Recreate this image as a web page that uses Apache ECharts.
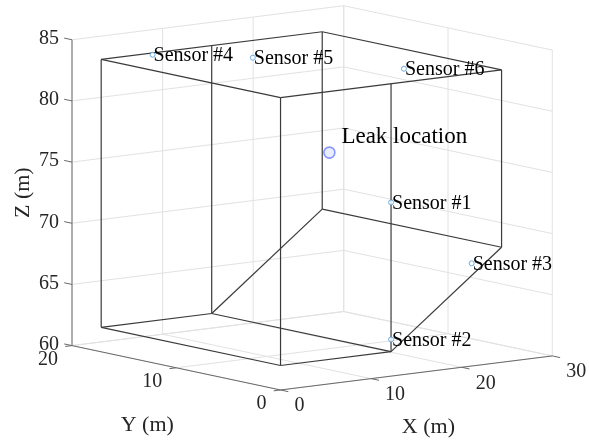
<!DOCTYPE html>
<html>
<head>
<meta charset="utf-8">
<script src="https://cdn.jsdelivr.net/npm/echarts@6/dist/echarts.min.js"></script>
<style>
  html, body { margin: 0; padding: 0; background: #ffffff; }
  #chart { width: 589px; height: 443px; }
</style>
</head>
<body>
<div id="chart"></div>
<script>
// Axis limits and ticks (metres)
const xTicks = [0, 10, 20, 30];
const yTicks = [0, 10, 20];
const zTicks = [60, 65, 70, 75, 80, 85];

// Tank outline: cross-section in the x–z plane, extruded along y
const profileX = [0, 12.2, 24.4, 24.4, 0];
const profileZ = [62, 62, 69.4, 83.9, 83.9];
const tankY = [0, 17.2];
const dividerX = 12.2;

// Sensor positions
const sensorNames = ['Sensor #1', 'Sensor #2', 'Sensor #3', 'Sensor #4', 'Sensor #5', 'Sensor #6'];
const sensorX = [12.2, 12.2, 21.1, 5.1, 11.1, 18.0];
const sensorY = [0, 0, 0, 16.7, 12.3, 3.8];
const sensorZ = [74.2, 63.0, 68.4, 83.9, 83.9, 83.9];

// Estimated leak position
const leakName = 'Leak location';
const leakX = [14.6];
const leakY = [8.0];
const leakZ = [76.6];

// ---- 3-D view: orthographic projection (azimuth / elevation, plot-box aspect) ----
const xLim = [xTicks[0], xTicks[xTicks.length - 1]];
const yLim = [yTicks[0], yTicks[yTicks.length - 1]];
const zLim = [zTicks[0], zTicks[zTicks.length - 1]];
const AZ = -37.5 * Math.PI / 180;
const EL = 9.4 * Math.PI / 180;
const BOX = [1.105, 1.105, 1];      // plot-box aspect ratio
const SCALE = 310;                  // pixels per unit of plot box
const ORIGIN_TOP = 5.7;             // top of the projected box, px
const ORIGIN_LEFT = 72;             // left of the projected box, px

function proj(x, y, z) {
  const nx = (x - xLim[0]) / (xLim[1] - xLim[0]) * BOX[0];
  const ny = (y - yLim[0]) / (yLim[1] - yLim[0]) * BOX[1];
  const nz = (z - zLim[0]) / (zLim[1] - zLim[0]) * BOX[2];
  const h = Math.cos(AZ) * nx + Math.sin(AZ) * ny;
  const v = -Math.sin(EL) * Math.sin(AZ) * nx + Math.sin(EL) * Math.cos(AZ) * ny + Math.cos(EL) * nz;
  return [h, v];
}

// extent of the projected axis box
const corners = [];
[xLim[0], xLim[1]].forEach(x => [yLim[0], yLim[1]].forEach(y => [zLim[0], zLim[1]].forEach(z => corners.push(proj(x, y, z)))));
const hMin = Math.min(...corners.map(c => c[0])), hMax = Math.max(...corners.map(c => c[0]));
const vMin = Math.min(...corners.map(c => c[1])), vMax = Math.max(...corners.map(c => c[1]));

// ---- segments ----
const gridSegs = [];
// floor
xTicks.forEach(x => gridSegs.push([[x, yLim[0], zLim[0]], [x, yLim[1], zLim[0]]]));
yTicks.forEach(y => gridSegs.push([[xLim[0], y, zLim[0]], [xLim[1], y, zLim[0]]]));
// back wall (y = max)
xTicks.forEach(x => gridSegs.push([[x, yLim[1], zLim[0]], [x, yLim[1], zLim[1]]]));
zTicks.forEach(z => gridSegs.push([[xLim[0], yLim[1], z], [xLim[1], yLim[1], z]]));
// side wall (x = max)
yTicks.forEach(y => gridSegs.push([[xLim[1], y, zLim[0]], [xLim[1], y, zLim[1]]]));
zTicks.forEach(z => gridSegs.push([[xLim[1], yLim[0], z], [xLim[1], yLim[1], z]]));

const axisSegs = [
  [[xLim[0], yLim[1], zLim[0]], [xLim[0], yLim[1], zLim[1]]],
  [[xLim[0], yLim[0], zLim[0]], [xLim[0], yLim[1], zLim[0]]],
  [[xLim[0], yLim[0], zLim[0]], [xLim[1], yLim[0], zLim[0]]]
];
const TICK = 0.75;
zTicks.forEach(z => axisSegs.push([[xLim[0], yLim[1], z], [xLim[0], yLim[1] + TICK, z]]));
yTicks.forEach(y => axisSegs.push([[xLim[0], y, zLim[0]], [xLim[0] - TICK, y, zLim[0]]]));
xTicks.forEach(x => axisSegs.push([[x, yLim[0], zLim[0]], [x, yLim[0] - TICK, zLim[0]]]));

const tankSegs = [];
tankY.forEach(y => {
  for (let i = 0; i < profileX.length; i++) {
    const j = (i + 1) % profileX.length;
    tankSegs.push([[profileX[i], y, profileZ[i]], [profileX[j], y, profileZ[j]]]);
  }
  tankSegs.push([[dividerX, y, profileZ[0]], [dividerX, y, profileZ[profileZ.length - 1]]]);
});
for (let i = 0; i < profileX.length; i++) {
  tankSegs.push([[profileX[i], tankY[0], profileZ[i]], [profileX[i], tankY[1], profileZ[i]]]);
}

function segSeries(segs, color, width, z) {
  return {
    type: 'custom', coordinateSystem: 'cartesian2d', silent: true, z: z,
    data: segs.map(s => proj(...s[0]).concat(proj(...s[1]))),
    encode: { x: [0, 2], y: [1, 3] },
    renderItem: function (params, api) {
      const a = api.coord([api.value(0), api.value(1)]);
      const b = api.coord([api.value(2), api.value(3)]);
      return { type: 'line', shape: { x1: a[0], y1: a[1], x2: b[0], y2: b[1] },
               style: { stroke: color, lineWidth: width } };
    }
  };
}

// ---- text ----
const SERIF = '"Liberation Serif", "Times New Roman", serif';
// each text: [pos3d, text, dx, dy, align, fontSize, color, rotate]
const texts = [];
zTicks.forEach(z => texts.push([[xLim[0], yLim[1], z], String(z), -13, -1, 'right', 20, '#262626', 0]));
yTicks.forEach(y => texts.push([[xLim[0], y, zLim[0]], String(y), -14, 14, 'right', 20, '#262626', 0]));
xTicks.forEach(x => texts.push([[x, yLim[0], zLim[0]], String(x), 14, 16, 'left', 20, '#262626', 0]));
texts.push([[(xLim[0] + xLim[1]) / 2, yLim[0], zLim[0]], 'X (m)', 12, 54, 'center', 22, '#262626', 0]);
texts.push([[xLim[0], (yLim[0] + yLim[1]) / 2, zLim[0]], 'Y (m)', -29, 57, 'center', 22, '#262626', 0]);
texts.push([[xLim[0], yLim[1], (zLim[0] + zLim[1]) / 2], 'Z (m)', -49, 0, 'center', 22, '#262626', 90]);
sensorNames.forEach((n, i) => texts.push([[sensorX[i], sensorY[i], sensorZ[i]], n, 1, 1.5, 'left', 20, '#000000', 0]));
texts.push([[leakX[0], leakY[0], leakZ[0]], leakName, 12, -16, 'left', 23, '#000000', 0]);

const textSeries = {
  type: 'custom', coordinateSystem: 'cartesian2d', silent: true, z: 10,
  data: texts.map((t, i) => proj(...t[0]).concat([i])),
  encode: { x: 0, y: 1 },
  renderItem: function (params, api) {
    const t = texts[api.value(2)];
    const p = api.coord([api.value(0), api.value(1)]);
    return {
      type: 'text', x: p[0] + t[2], y: p[1] + t[3], rotation: t[7] * Math.PI / 180,
      style: { text: t[1], fill: t[6], font: t[5] + 'px ' + SERIF, align: t[4], verticalAlign: 'middle' }
    };
  }
};

const chart = echarts.init(document.getElementById('chart'), null, { renderer: 'canvas' });
chart.setOption({
  animation: false,
  backgroundColor: '#ffffff',
  grid: { left: ORIGIN_LEFT, top: ORIGIN_TOP, width: (hMax - hMin) * SCALE, height: (vMax - vMin) * SCALE },
  xAxis: { type: 'value', min: hMin, max: hMax, show: false },
  yAxis: { type: 'value', min: vMin, max: vMax, show: false },
  series: [
    segSeries(gridSegs, '#e2e2e2', 1, 1),
    segSeries(axisSegs, '#6a6a6a', 1, 2),
    segSeries(tankSegs, '#3a3a3a', 1.2, 3),
    {
      type: 'scatter', z: 5, silent: true,
      data: sensorNames.map((n, i) => proj(sensorX[i], sensorY[i], sensorZ[i])),
      symbol: 'circle', symbolSize: 5,
      itemStyle: { color: '#ffffff', borderColor: '#4a98d8', borderWidth: 1 }
    },
    {
      type: 'scatter', z: 5, silent: true,
      data: leakX.map((x, i) => proj(x, leakY[i], leakZ[i])),
      symbol: 'circle', symbolSize: 11,
      itemStyle: { color: '#e2eaff', borderColor: '#6f7dff', borderWidth: 1.6 }
    },
    textSeries
  ]
});
</script>
</body>
</html>
